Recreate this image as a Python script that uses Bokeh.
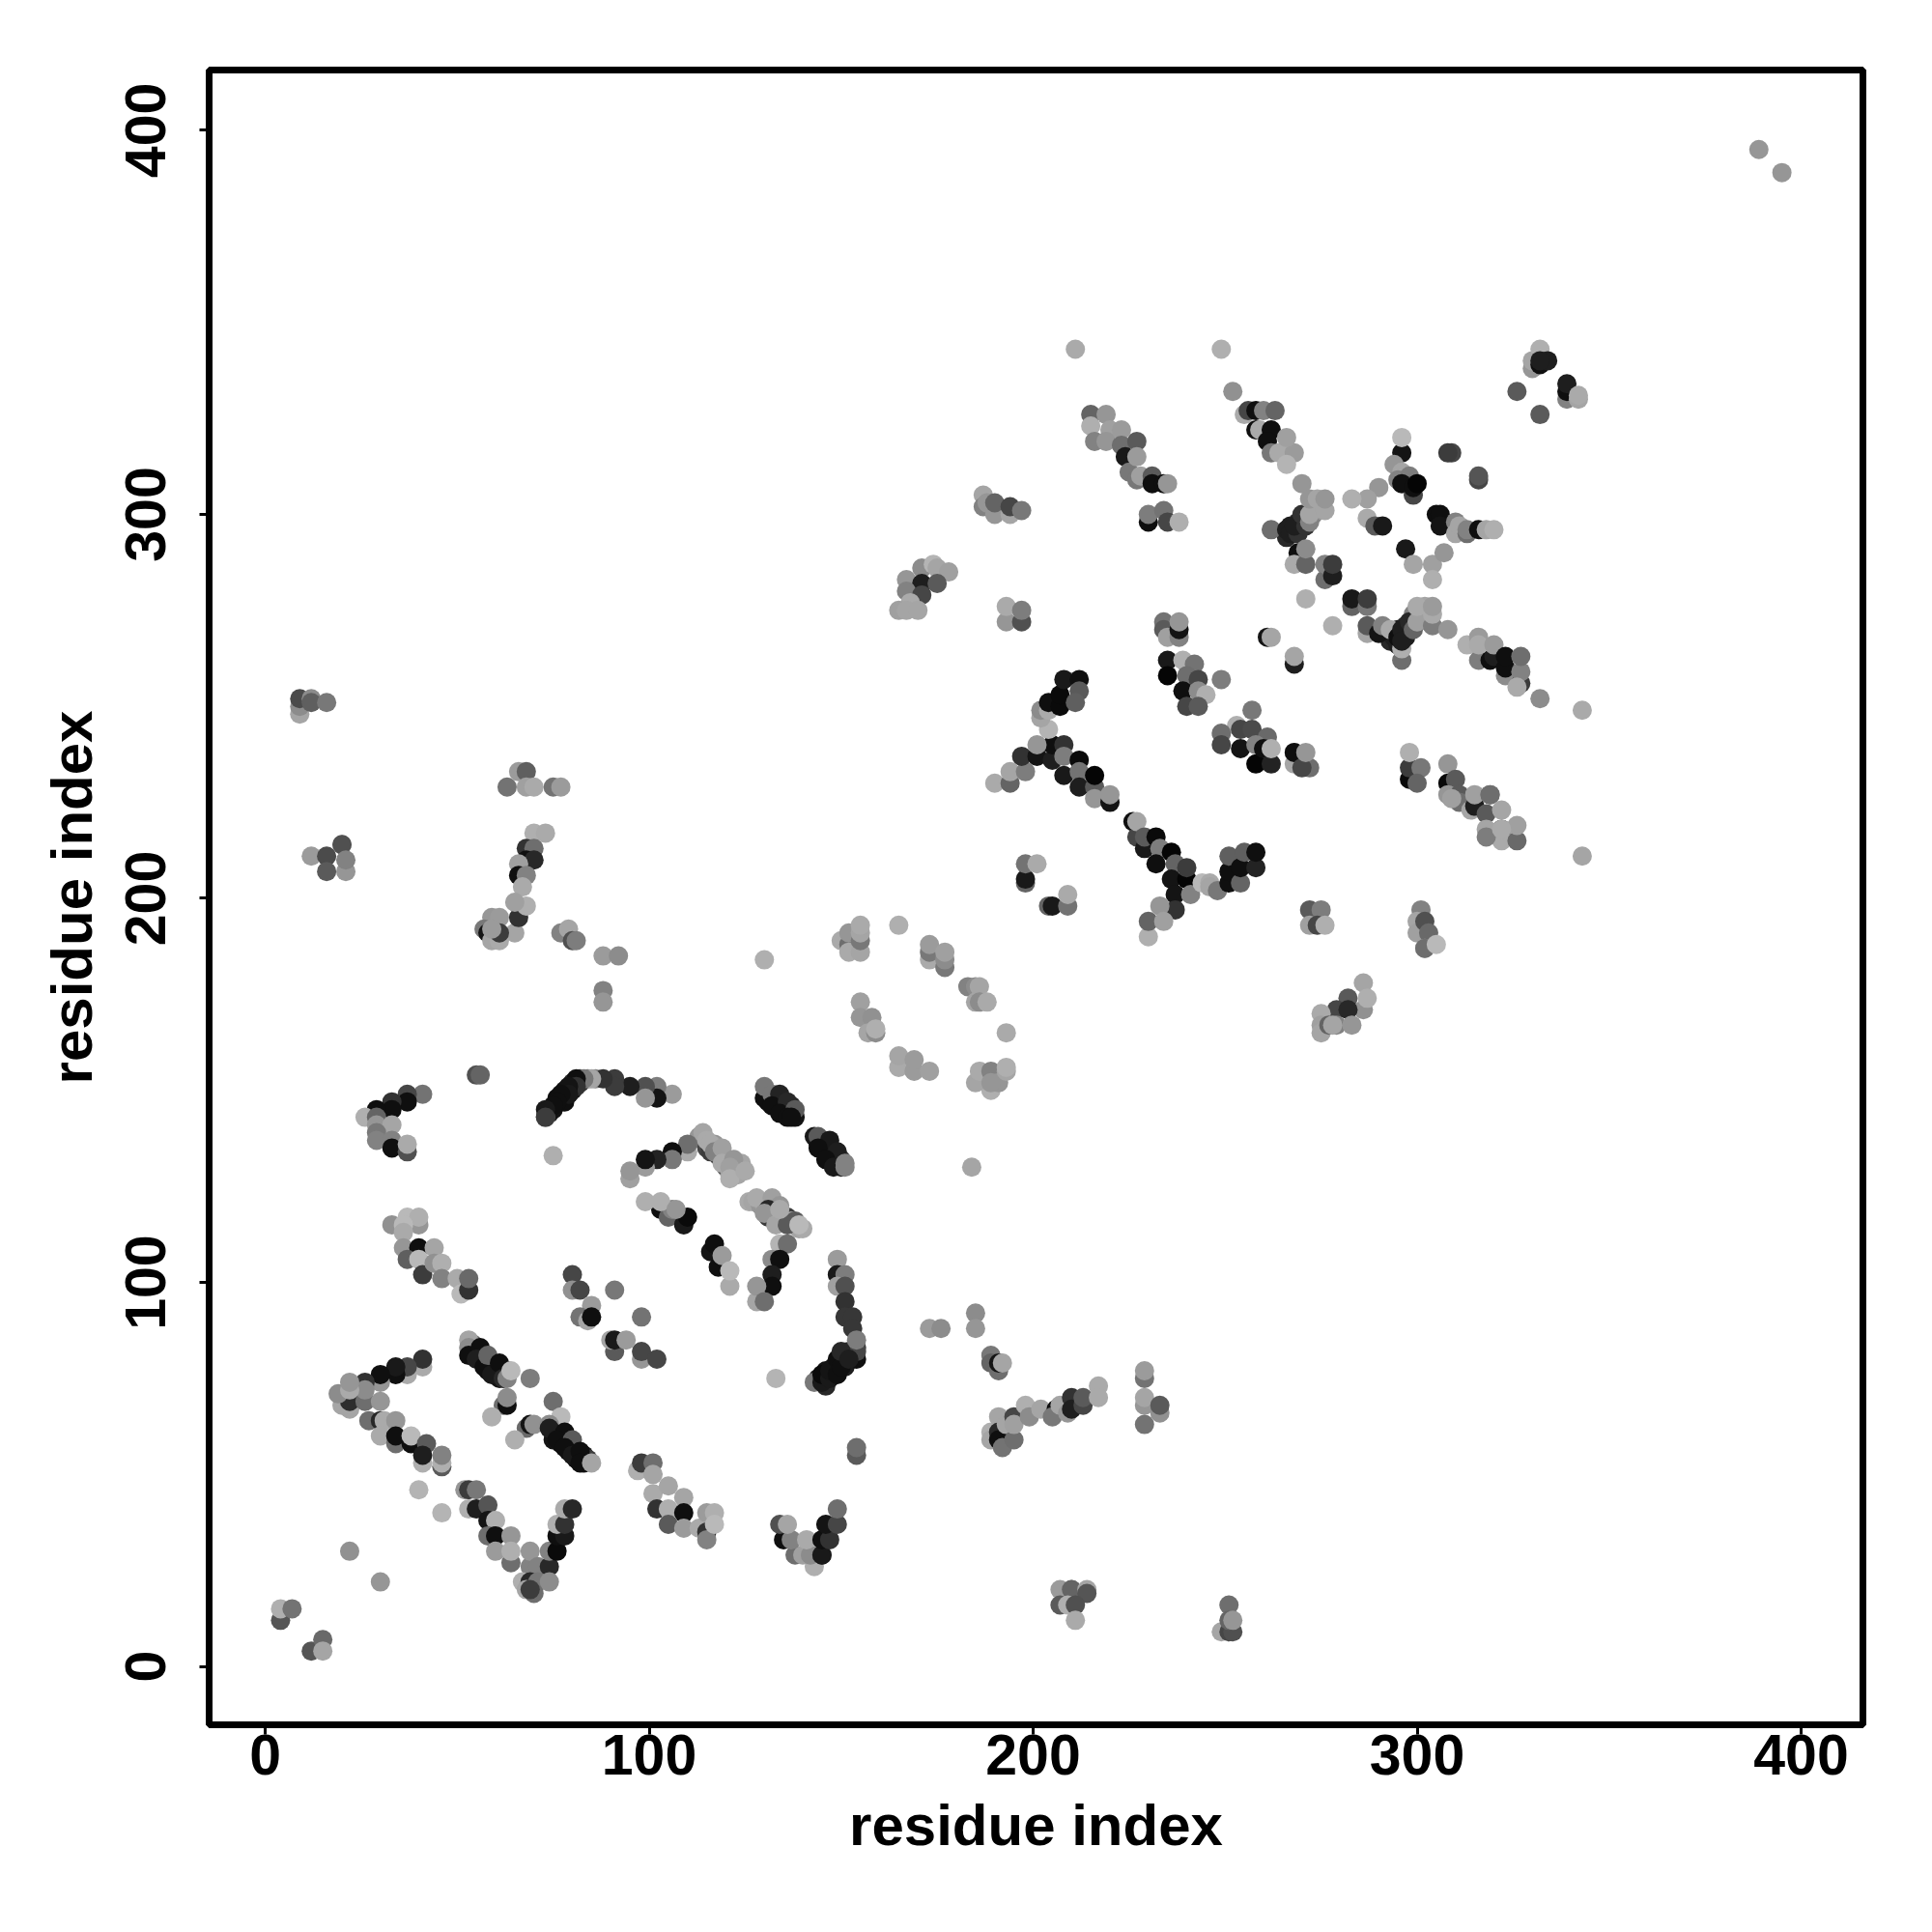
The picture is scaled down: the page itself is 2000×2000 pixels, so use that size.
import numpy as np
from bokeh.plotting import figure
from bokeh.models import FixedTicker, Range1d, ColumnDataSource
from bokeh.embed import file_html
from bokeh.resources import INLINE

tick_values = [0, 100, 200, 300, 400]
axis_title = "residue index"

# residue pairs and grey level, group by group
x_f1 = [74, 75, 76, 77, 78, 78, 79, 80, 80, 82, 82, 84, 86]
y_f1 = [144, 145, 148, 147, 150, 147, 149, 152, 150, 152, 153, 153, 153]
g_f1 = [30, 20, 15, 15, 20, 15, 20, 40, 20, 50, 60, 110, 130]

x_f2 = [131, 131, 132, 133, 133, 134, 134, 135, 135, 136, 137, 138, 137]
y_f2 = [149, 147, 147, 148, 146, 147, 145, 146, 144, 145, 146, 143, 144]
g_f2 = [30, 15, 20, 30, 15, 30, 15, 30, 15, 40, 40, 20, 15]

x_f3 = [144, 145, 145, 146, 146, 147, 147, 148, 148, 149, 149, 150, 150]
y_f3 = [136, 137, 135, 136, 134, 135, 133, 134, 132, 132, 131, 132, 130]
g_f3 = [20, 60, 15, 30, 15, 30, 15, 30, 15, 30, 20, 60, 30]

x_f4 = [144, 146, 146, 148, 148, 149, 150, 151, 151, 152, 153, 153, 154]
y_f4 = [75, 75, 77, 76, 78, 78, 80, 78, 80, 82, 80, 82, 83]
g_f4 = [30, 15, 20, 15, 20, 15, 20, 30, 20, 40, 30, 50, 60]

x_f5 = [54, 54, 55, 56, 57, 57, 58, 58, 59, 60, 60, 61, 61, 62, 63]
y_f5 = [82, 84, 82, 81, 81, 80, 79, 77, 79, 78, 76, 77, 75, 77, 77]
g_f5 = [30, 100, 30, 20, 60, 15, 40, 15, 50, 30, 15, 40, 20, 30, 40]

x_f6 = [75, 75, 76, 77, 77, 78, 79, 79, 80, 81, 81, 82, 83, 83, 84]
y_f6 = [61, 59, 61, 60, 58, 59, 58, 56, 57, 56, 54, 55, 55, 53, 54]
g_f6 = [40, 20, 60, 30, 15, 40, 50, 15, 60, 25, 15, 30, 30, 15, 60]

x_f7 = [113, 114, 115, 116, 117, 118, 118, 119, 120, 120, 121, 122, 123, 123, 124]
y_f7 = [138, 137, 135, 134, 136, 133, 135, 133, 132, 130, 128, 129, 128, 131, 131]
g_f7 = [150, 120, 70, 60, 150, 70, 165, 60, 150, 90, 160, 170, 165, 170, 165]

x_f8 = [126, 127, 129, 130, 131, 131, 132, 133, 135, 136, 137, 138, 139, 140]
y_f8 = [121, 121, 120, 120, 120, 117, 118, 118, 117, 117, 116, 116, 114, 114]
g_f8 = [170, 165, 150, 160, 90, 60, 150, 70, 150, 60, 165, 90, 165, 170]

x_f9 = [293, 294, 295, 295, 296, 297, 297, 298, 298, 299, 299, 300, 301, 302, 302, 303, 303]
y_f9 = [267, 268, 266, 270, 269, 268, 271, 270, 272, 271, 274, 273, 275, 273, 276, 272, 275]
g_f9 = [40, 30, 30, 30, 20, 30, 40, 50, 60, 100, 130, 130, 160, 150, 165, 130, 165]

x_f10 = [266, 267, 268, 269, 269, 270, 270, 271, 272, 273, 273, 274, 275]
y_f10 = [294, 297, 295, 298, 296, 297, 298, 299, 299, 300, 302, 301, 302]
g_f10 = [40, 30, 30, 40, 40, 40, 50, 100, 120, 130, 160, 150, 165]

x_a = [4, 4, 7, 12, 15, 15, 22, 30]
y_a = [12, 15, 15, 4, 7, 4, 30, 22]
g_a = [85, 175, 115, 85, 105, 165, 145, 150]

x_b = [41, 41, 37, 37, 34, 34, 30, 30, 26, 22, 20, 22, 19, 26, 26, 22, 22, 30]
y_b = [78, 80, 76, 78, 76, 78, 74, 76, 74, 67, 68, 69, 71, 69, 72, 72, 74, 69]
g_b = [170, 50, 170, 70, 15, 25, 150, 15, 50, 165, 165, 45, 140, 110, 140, 170, 150, 150]

x_c = [27, 30, 31, 34, 30, 34, 34, 38, 38, 42, 41, 41, 46, 46, 46, 40, 46]
y_c = [64, 64, 64, 64, 60, 58, 60, 58, 60, 58, 53, 55, 52, 53, 55, 46, 40]
g_c = [110, 40, 170, 150, 170, 110, 15, 15, 185, 90, 175, 30, 90, 175, 130, 180, 180]

x_d = [33, 40, 37, 40, 36, 36, 36, 40, 44, 37, 40, 41, 44, 46, 46, 50, 51, 53, 53]
y_d = [115, 115, 117, 117, 115, 113, 109, 109, 109, 106, 106, 102, 105, 105, 101, 101, 97, 98, 101]
g_d = [145, 150, 185, 175, 185, 170, 150, 15, 165, 95, 185, 60, 145, 175, 130, 170, 185, 50, 105]

x_e = [53, 53, 53, 56, 55, 57, 59, 58, 61, 62, 63, 64, 69, 62, 63, 63, 59]
y_e = [85, 83, 81, 83, 80, 78, 76, 81, 79, 75, 75, 77, 75, 68, 68, 70, 65]
g_e = [165, 140, 15, 15, 30, 15, 25, 100, 15, 40, 130, 185, 125, 110, 15, 140, 175]

x_f = [75, 68, 69, 70, 65, 77, 74, 74, 76, 78, 76, 80, 78, 80, 82, 82, 85]
y_f = [69, 62, 63, 63, 59, 65, 63, 62, 59, 61, 59, 59, 57, 55, 56, 53, 53]
g_f = [110, 105, 20, 145, 175, 185, 140, 30, 30, 15, 15, 90, 15, 25, 15, 15, 165]

x_g = [52, 53, 55, 53, 55, 58, 58, 60, 58, 60, 64, 60, 64, 64, 69, 69, 71, 74, 67, 69, 71, 74, 68, 70, 69, 74, 76, 76, 78, 76, 78, 78, 80]
y_g = [46, 46, 46, 41, 41, 42, 38, 38, 34, 34, 34, 30, 27, 30, 26, 30, 26, 26, 22, 22, 22, 22, 20, 19, 20, 30, 30, 34, 34, 37, 37, 41, 41]
g_g = [150, 60, 120, 175, 30, 85, 20, 175, 110, 15, 150, 155, 110, 175, 130, 150, 130, 40, 175, 40, 120, 140, 165, 110, 60, 130, 10, 15, 25, 175, 50, 170, 40]

x_h = [80, 80, 82, 91, 85, 82, 84, 85, 98, 91, 90, 91, 94, 98, 98, 102]
y_h = [102, 98, 98, 98, 94, 91, 90, 91, 91, 82, 85, 85, 85, 80, 82, 80]
g_h = [70, 145, 70, 120, 155, 115, 165, 15, 115, 90, 165, 25, 155, 150, 70, 70]

x_i = [97, 98, 101, 101, 101, 105, 102, 105, 109, 109, 105, 109, 113, 115, 115, 115, 117, 117]
y_i = [51, 53, 53, 50, 45, 47, 41, 41, 44, 40, 37, 36, 36, 35, 33, 40, 40, 37]
g_i = [175, 60, 110, 165, 170, 165, 50, 175, 165, 15, 90, 155, 170, 50, 130, 155, 175, 185]

x_j = [103, 105, 106, 109, 110, 116, 117, 118, 119, 121, 121, 99, 103, 107]
y_j = [119, 117, 119, 115, 117, 108, 110, 104, 107, 99, 103, 121, 121, 119]
g_j = [15, 100, 130, 25, 10, 20, 15, 15, 155, 170, 185, 175, 175, 150]

x_k = [128, 132, 134, 131, 130, 133, 136, 134, 139, 134, 136, 132, 134, 132, 132, 128, 128, 130]
y_k = [122, 122, 120, 119, 118, 115, 115, 119, 115, 110, 110, 106, 106, 102, 99, 95, 99, 95]
g_k = [170, 160, 150, 40, 150, 165, 90, 170, 185, 180, 110, 140, 15, 30, 15, 165, 150, 110]

x_l = [149, 149, 151, 149, 151, 151, 151, 153, 153, 154, 154, 154]
y_l = [106, 102, 102, 99, 99, 95, 91, 91, 88, 80, 82, 85]
g_l = [155, 25, 125, 160, 80, 50, 55, 55, 55, 15, 70, 125]

x_m = [143, 146, 145, 145, 147, 147, 149, 149, 150, 150, 152, 133]
y_m = [74, 73, 74, 76, 75, 77, 76, 80, 78, 82, 80, 75]
g_m = [120, 40, 25, 10, 25, 20, 15, 15, 15, 40, 30, 180]

x_n = [173, 176, 185, 185, 189, 189, 191, 191, 192]
y_n = [88, 88, 92, 88, 81, 79, 77, 79, 79]
g_n = [155, 140, 140, 150, 120, 100, 110, 20, 165]

x_o = [189, 189, 191, 191, 191, 192, 193, 195, 195, 195, 198, 199, 202, 206, 205, 207, 209, 210, 210, 213, 213, 217, 217]
y_o = [61, 59, 65, 61, 59, 57, 63, 59, 65, 63, 68, 65, 67, 67, 65, 68, 66, 70, 67, 68, 70, 73, 70]
g_o = [175, 165, 165, 40, 15, 115, 165, 110, 70, 160, 175, 140, 165, 15, 120, 165, 150, 50, 30, 70, 90, 170, 170]

x_p = [229, 229, 229, 229, 229, 233, 233, 154, 154]
y_p = [75, 77, 68, 70, 63, 66, 68, 55, 57]
g_p = [115, 155, 150, 165, 115, 145, 90, 90, 110]

x_q = [143, 138, 140, 142, 145, 145, 135, 137, 141, 145, 147, 134, 136, 146, 149, 149]
y_q = [26, 29, 29, 29, 29, 29, 33, 33, 33, 33, 33, 37, 37, 37, 37, 41]
g_q = [175, 110, 160, 140, 70, 25, 15, 130, 170, 15, 50, 80, 165, 20, 70, 110]

x_r = [207, 210, 210, 214, 214, 207, 209, 211, 211]
y_r = [20, 20, 20, 20, 19, 16, 16, 16, 12]
g_r = [155, 140, 100, 165, 85, 90, 175, 80, 170]

x_s = [251, 249, 251, 252, 251, 252]
y_s = [16, 9, 9, 9, 12, 12]
g_s = [110, 165, 70, 80, 100, 150]

x_t = [9, 9, 9, 12, 12, 16, 12, 16, 20, 20, 16, 21, 21]
y_t = [248, 250, 252, 252, 251, 251, 211, 211, 214, 214, 207, 207, 210]
g_t = [165, 140, 75, 140, 95, 120, 155, 75, 170, 80, 90, 150, 130]

x_u = [66, 68, 63, 68, 70, 75, 77, 70, 73]
y_u = [233, 233, 229, 229, 229, 229, 229, 217, 217]
g_u = [155, 95, 115, 160, 170, 115, 155, 175, 170]

x_v = [68, 70, 68, 70, 66, 66, 68, 67, 65, 66, 68, 65, 59, 61, 57, 58, 59, 61, 61, 59]
y_v = [213, 213, 210, 210, 209, 206, 206, 203, 191, 195, 198, 199, 195, 195, 192, 191, 189, 189, 191, 192]
g_v = [50, 110, 15, 40, 160, 15, 130, 170, 165, 50, 175, 160, 150, 155, 120, 20, 165, 170, 60, 155]

x_w = [77, 79, 80, 81, 88, 92, 88, 88, 55, 56]
y_w = [191, 192, 189, 189, 185, 185, 176, 173, 154, 154]
g_w = [130, 165, 80, 125, 155, 140, 130, 150, 80, 100]

x_y = [106, 102, 102, 99, 99, 95, 91, 91, 88, 85, 83, 81, 81, 79, 79, 77, 76, 75, 73, 73, 73, 75]
y_y = [149, 151, 148, 151, 148, 151, 153, 151, 153, 153, 153, 153, 151, 151, 149, 149, 147, 146, 143, 145, 143, 133]
g_y = [155, 125, 20, 80, 150, 30, 60, 60, 50, 165, 120, 15, 50, 20, 25, 15, 15, 15, 115, 25, 60, 175]

x_z = [41, 37, 37, 33, 33, 29, 26, 29, 29, 33, 29, 29, 33, 33, 37, 37]
y_z = [149, 149, 147, 147, 145, 145, 143, 143, 141, 141, 139, 137, 137, 135, 134, 136]
g_z = [115, 70, 15, 50, 15, 15, 175, 100, 150, 165, 120, 130, 130, 15, 80, 170]

x_aa = [110, 110, 106, 106, 102, 99, 99, 95, 95, 114, 115, 116, 117, 119, 119, 122, 121, 121, 125]
y_aa = [134, 136, 134, 132, 132, 130, 132, 127, 129, 139, 137, 136, 134, 135, 131, 132, 130, 127, 129]
g_aa = [170, 110, 15, 120, 35, 155, 20, 160, 150, 165, 170, 170, 130, 160, 170, 150, 160, 175, 170]

x_bb = [130, 130, 132, 134, 132, 136, 134, 138, 136, 137]
y_bb = [148, 151, 149, 149, 146, 147, 144, 145, 143, 143]
g_bb = [15, 120, 120, 35, 15, 40, 15, 90, 15, 15]

x_cc = [143, 144, 147, 144, 149, 146, 148, 151, 151, 184]
y_cc = [138, 138, 137, 135, 134, 132, 130, 131, 130, 130]
g_cc = [25, 90, 25, 15, 30, 15, 25, 130, 130, 165]

x_dd = [130, 150, 152, 152, 152, 155, 155, 155, 155, 165]
y_dd = [184, 189, 188, 186, 191, 186, 189, 191, 193, 193]
g_dd = [175, 170, 110, 170, 150, 165, 120, 165, 170, 175]

x_ee = [173, 173, 173, 177, 177, 177, 183, 185, 186, 185, 186, 188, 193]
y_ee = [184, 186, 188, 182, 184, 186, 177, 177, 177, 173, 173, 173, 165]
g_ee = [170, 120, 155, 120, 140, 160, 130, 140, 165, 165, 140, 170, 170]

x_ff = [155, 155, 158, 157, 159, 159, 165, 165, 169, 169, 173]
y_ff = [173, 169, 169, 165, 165, 166, 156, 159, 155, 158, 155]
g_ff = [160, 150, 145, 165, 140, 175, 170, 165, 155, 155, 160]

x_gg = [189, 185, 186, 189, 191, 189, 193, 193]
y_gg = [150, 152, 155, 155, 152, 152, 155, 156]
g_gg = [175, 165, 170, 130, 150, 150, 165, 175]

x_hh = [190, 194, 194, 198, 197, 201, 205, 205, 201, 208, 208, 208, 212, 212, 212, 216, 216, 216, 220, 220]
y_hh = [230, 230, 233, 233, 237, 237, 236, 240, 240, 240, 232, 237, 236, 233, 229, 229, 226, 232, 225, 227]
g_hh = [170, 100, 165, 125, 50, 20, 30, 15, 150, 50, 25, 125, 10, 115, 30, 90, 150, 5, 20, 150]

x_ii = [204, 202, 202, 204, 204, 207, 207, 208, 212, 212, 211]
y_ii = [244, 247, 249, 249, 251, 250, 253, 257, 257, 254, 251]
g_ii = [180, 165, 140, 170, 15, 10, 10, 25, 15, 90, 95]

x_jj = [198, 198, 198, 201, 204, 205, 209, 209]
y_jj = [204, 205, 209, 209, 198, 198, 198, 201]
g_jj = [100, 25, 115, 170, 100, 25, 115, 170]

x_kk = [226, 227, 227, 229, 229, 232, 233, 232, 236, 237, 236, 240, 240, 237, 241, 237]
y_kk = [220, 216, 220, 213, 216, 216, 213, 209, 212, 209, 205, 205, 208, 201, 201, 197]
g_kk = [15, 70, 165, 25, 90, 10, 125, 15, 5, 100, 20, 5, 60, 20, 130, 50]

x_ll = [230, 230, 233, 234, 244, 246, 246, 248]
y_ll = [190, 194, 198, 194, 204, 204, 203, 202]
g_ll = [175, 100, 150, 160, 185, 170, 165, 120]

x_mm = [251, 251, 251, 254, 254, 255, 258, 258]
y_mm = [204, 207, 211, 204, 208, 212, 208, 212]
g_mm = [15, 15, 95, 100, 15, 95, 35, 15]

x_nn = [211, 249, 252, 215, 219, 215, 216, 220, 219, 223, 223, 227, 224, 225, 227, 228, 227, 231, 231, 234, 235]
y_nn = [343, 343, 332, 326, 326, 323, 319, 322, 319, 322, 318, 319, 315, 311, 309, 310, 315, 310, 308, 308, 308]
g_nn = [170, 175, 145, 100, 150, 175, 130, 160, 150, 155, 110, 90, 25, 120, 120, 160, 155, 90, 15, 15, 150]

x_oo = [230, 230, 234, 235, 238]
y_oo = [298, 300, 301, 298, 298]
g_oo = [15, 125, 115, 70, 175]

x_pp = [187, 187, 188, 190, 190, 194, 194, 197]
y_pp = [305, 302, 303, 300, 303, 300, 302, 301]
g_pp = [165, 130, 150, 150, 100, 165, 70, 120]

x_qq = [171, 174, 175, 178, 167, 171, 175, 167, 171, 168, 165, 167, 170]
y_qq = [286, 287, 286, 285, 283, 282, 282, 280, 279, 277, 275, 275, 275]
g_qq = [140, 180, 165, 160, 150, 30, 90, 130, 70, 170, 160, 165, 165]

x_rr = [193, 193, 197, 197, 234, 234, 235, 238, 238, 238]
y_rr = [272, 276, 272, 275, 272, 270, 268, 268, 270, 272]
g_rr = [150, 170, 80, 125, 115, 90, 160, 130, 20, 150]

x_ss = [235, 235, 239, 242, 240, 243, 239, 243, 245, 249, 240, 243]
y_ss = [262, 258, 262, 261, 258, 257, 254, 254, 253, 257, 250, 250]
g_ss = [25, 5, 175, 115, 110, 70, 15, 140, 175, 125, 70, 90]

x_tt = [257, 253, 249, 249, 254, 254, 257, 261, 258, 258, 260, 262, 262]
y_tt = [249, 245, 243, 240, 239, 244, 244, 242, 235, 240, 239, 235, 239]
g_tt = [120, 175, 110, 70, 20, 70, 75, 105, 5, 130, 15, 35, 175]

x_uu = [268, 272, 268, 268, 270, 271, 261, 262, 268, 268]
y_uu = [235, 234, 238, 238, 234, 238, 268, 268, 261, 263]
g_uu = [165, 110, 150, 15, 70, 150, 20, 165, 30, 165]

x_vv = [255, 256, 258, 260, 263, 258, 259, 262, 261, 262, 264, 268, 266, 266]
y_vv = [326, 327, 327, 327, 327, 322, 322, 322, 319, 316, 316, 316, 313, 320]
g_vv = [170, 70, 15, 130, 100, 15, 170, 15, 15, 120, 170, 155, 180, 160]

x_ww = [270, 262, 266, 267, 269, 268, 271, 270, 272, 272, 272, 274, 276, 276]
y_ww = [308, 296, 296, 295, 295, 297, 297, 300, 298, 300, 304, 304, 301, 304]
g_ww = [150, 110, 30, 30, 50, 30, 50, 50, 130, 165, 150, 165, 165, 150]

x_xx = [269, 268, 271, 271, 276, 276, 278, 278, 271, 278, 283, 283, 287, 287]
y_xx = [290, 287, 287, 291, 283, 287, 284, 287, 278, 271, 276, 278, 276, 278]
g_xx = [15, 170, 100, 140, 110, 130, 30, 60, 175, 175, 100, 25, 120, 60]

x_yy = [326, 332, 330, 330, 332, 332, 334, 332, 339, 339, 339, 342, 342]
y_yy = [332, 326, 338, 340, 343, 339, 340, 340, 330, 332, 334, 330, 331]
g_yy = [90, 90, 150, 165, 175, 15, 30, 30, 130, 15, 30, 165, 170]

x_zz = [296, 294, 296, 295, 298, 296, 299, 299, 300, 296, 309, 308, 316, 316]
y_zz = [316, 313, 311, 309, 310, 308, 305, 307, 308, 320, 316, 316, 309, 310]
g_zz = [20, 150, 165, 130, 125, 15, 70, 15, 5, 185, 70, 60, 70, 85]

x_ab = [290, 287, 283, 287, 289, 291, 305, 306, 306, 310, 310, 311, 313, 313, 316, 318, 320]
y_ab = [307, 304, 304, 299, 297, 297, 300, 300, 297, 298, 295, 297, 295, 296, 296, 296, 296]
g_ab = [150, 160, 175, 170, 90, 25, 15, 15, 20, 130, 165, 165, 110, 130, 15, 165, 175]

x_ac = [297, 299, 304, 307, 304]
y_ac = [291, 287, 287, 290, 283]
g_ac = [25, 165, 160, 150, 175]

x_ad = [287, 287, 290, 291, 293, 296, 296, 295, 296, 298, 296, 299, 300, 300, 304, 304, 304, 308]
y_ad = [269, 271, 269, 271, 270, 262, 265, 268, 270, 272, 267, 270, 272, 276, 271, 274, 276, 270]
g_ad = [165, 90, 20, 130, 170, 110, 175, 15, 30, 40, 30, 100, 160, 170, 125, 170, 155, 150]

x_ae = [313, 316, 316, 316, 319, 320, 320, 323, 323, 323, 327, 327, 327, 326, 332, 343]
y_ae = [266, 262, 268, 266, 262, 263, 266, 258, 260, 263, 256, 259, 263, 255, 252, 249]
g_ae = [175, 125, 155, 170, 15, 30, 155, 140, 15, 15, 60, 130, 110, 170, 140, 170]

x_af = [298, 298, 298, 301, 300, 308, 308, 310, 308, 311, 311, 309]
y_af = [231, 234, 238, 234, 230, 230, 235, 231, 227, 227, 225, 226]
g_af = [10, 60, 175, 120, 100, 10, 150, 90, 150, 90, 110, 160]

x_ag = [314, 315, 315, 318, 319, 322, 318, 322, 322, 326, 326, 318, 322, 319, 343]
y_ag = [223, 224, 227, 222, 227, 218, 218, 215, 223, 215, 219, 216, 218, 227, 211]
g_ag = [165, 30, 160, 90, 110, 30, 165, 170, 165, 105, 160, 125, 170, 110, 165]

x_ah = [272, 275, 272, 274, 276, 301, 300, 300, 302, 303, 302, 302, 305]
y_ah = [197, 197, 193, 193, 193, 197, 194, 191, 194, 191, 187, 187, 188]
g_ah = [90, 125, 160, 70, 175, 130, 165, 160, 80, 105, 165, 110, 185]

x_ai = [286, 286, 282, 279, 282, 275, 275, 275, 277, 279, 283, 278, 287]
y_ai = [178, 171, 174, 171, 171, 170, 167, 165, 167, 167, 167, 167, 174]
g_ai = [165, 145, 90, 70, 40, 170, 160, 165, 100, 130, 150, 165, 175]

x_aj = [389, 395]
y_aj = [395, 389]
g_aj = [150, 150]

x_all = [x_f1, x_f2, x_f3, x_f4, x_f5, x_f6, x_f7, x_f8, x_f9, x_f10, x_a, x_b, x_c, x_d, x_e, x_f, x_g, x_h, x_i, x_j, x_k, x_l, x_m, x_n, x_o, x_p, x_q, x_r, x_s, x_t, x_u, x_v, x_w, x_y, x_z, x_aa, x_bb, x_cc, x_dd, x_ee, x_ff, x_gg, x_hh, x_ii, x_jj, x_kk, x_ll, x_mm, x_nn, x_oo, x_pp, x_qq, x_rr, x_ss, x_tt, x_uu, x_vv, x_ww, x_xx, x_yy, x_zz, x_ab, x_ac, x_ad, x_ae, x_af, x_ag, x_ah, x_ai, x_aj]
y_all = [y_f1, y_f2, y_f3, y_f4, y_f5, y_f6, y_f7, y_f8, y_f9, y_f10, y_a, y_b, y_c, y_d, y_e, y_f, y_g, y_h, y_i, y_j, y_k, y_l, y_m, y_n, y_o, y_p, y_q, y_r, y_s, y_t, y_u, y_v, y_w, y_y, y_z, y_aa, y_bb, y_cc, y_dd, y_ee, y_ff, y_gg, y_hh, y_ii, y_jj, y_kk, y_ll, y_mm, y_nn, y_oo, y_pp, y_qq, y_rr, y_ss, y_tt, y_uu, y_vv, y_ww, y_xx, y_yy, y_zz, y_ab, y_ac, y_ad, y_ae, y_af, y_ag, y_ah, y_ai, y_aj]
g_all = [g_f1, g_f2, g_f3, g_f4, g_f5, g_f6, g_f7, g_f8, g_f9, g_f10, g_a, g_b, g_c, g_d, g_e, g_f, g_g, g_h, g_i, g_j, g_k, g_l, g_m, g_n, g_o, g_p, g_q, g_r, g_s, g_t, g_u, g_v, g_w, g_y, g_z, g_aa, g_bb, g_cc, g_dd, g_ee, g_ff, g_gg, g_hh, g_ii, g_jj, g_kk, g_ll, g_mm, g_nn, g_oo, g_pp, g_qq, g_rr, g_ss, g_tt, g_uu, g_vv, g_ww, g_xx, g_yy, g_zz, g_ab, g_ac, g_ad, g_ae, g_af, g_ag, g_ah, g_ai, g_aj]

xs, ys, colors = [], [], []
for k, (a, b, c) in enumerate(zip(x_all, y_all, g_all)):
    if not (len(a) == len(b) == len(c)):
        raise SystemExit(f"group {k}: {len(a)} {len(b)} {len(c)}")
    xs += a
    ys += b
    colors += ["#%02x%02x%02x" % (v, v, v) for v in c]

FONT = "Liberation Sans"
p = figure(width=1984, height=1984, output_backend="svg", toolbar_location=None,
           x_range=Range1d(-14.6, 416.1), y_range=Range1d(-15.2, 415.7),
           min_border_left=216, min_border_right=56, min_border_top=72, min_border_bottom=199,
           background_fill_color="white", border_fill_color="white")
p.grid.visible = False
p.outline_line_color = "black"
p.outline_line_width = 7
p.outline_line_alpha = 1

p.scatter(x="x", y="y", size=20, fill_color="c", line_color=None,
          source=ColumnDataSource(dict(x=xs, y=ys, c=colors)))

for ax in (p.xaxis[0], p.yaxis[0]):
    ax.ticker = FixedTicker(ticks=tick_values)
    ax.axis_line_color = None
    ax.minor_tick_line_color = None
    ax.major_tick_in = 0
    ax.major_tick_out = 10
    ax.major_tick_line_width = 3
    ax.major_tick_line_color = "black"
    ax.axis_label = axis_title
    ax.axis_label_text_font = FONT
    ax.axis_label_text_font_style = "bold"
    ax.axis_label_text_font_size = "60px"
    ax.axis_label_text_color = "black"
    ax.major_label_text_font = FONT
    ax.major_label_text_font_style = "bold"
    ax.major_label_text_font_size = "59px"
    ax.major_label_text_color = "black"
p.xaxis[0].major_label_standoff = 0
p.xaxis[0].axis_label_standoff = 16
p.yaxis[0].major_label_standoff = 35
p.yaxis[0].major_label_orientation = "parallel"
p.yaxis[0].axis_label_standoff = 20

open("out.html", "w").write(file_html(p, INLINE))
